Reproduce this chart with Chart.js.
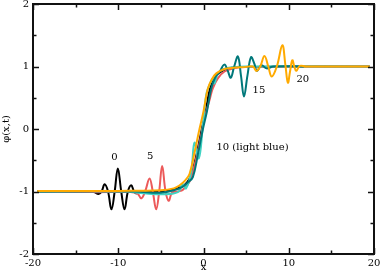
<!DOCTYPE html>
<html>
<head>
<meta charset="utf-8">
<script src="https://cdn.jsdelivr.net/npm/chart.js@4/dist/chart.umd.min.js"></script>
<style>
html,body{margin:0;padding:0;background:#fff;}
#wrap{width:382px;height:273px;position:relative;}
</style>
</head>
<body>
<div id="wrap"><canvas id="c" width="382" height="273"></canvas></div>
<script>
// ---- data ----
const seriesNames = ["0", "5", "10", "15", "20"];

const t0X = [-19.5, -13, -12.3, -11.95, -11.6, -11.2, -10.8, -10.42, -10.05, -9.65, -9.26, -8.87, -8.48, -8.15, -7.9, -7.5, -5, -3.5, -2.5, -1.9, -1.4, -0.8, -0.2, 0.25, 0.75, 1.25, 1.75, 2.7, 4, 19.5];
const t0Y = [-1, -1, -1.04, -1.0, -0.885, -1.0, -1.285, -1.0, -0.63, -1.0, -1.285, -1.0, -0.9, -1.0, -1.03, -1.0, -1.0, -0.97, -0.92, -0.85, -0.72, -0.40, 0.0, 0.28, 0.64, 0.80, 0.89, 0.96, 0.99, 1.0];

const t5X = [-19.5, -13, -8.5, -7.75, -7.3, -6.85, -6.33, -5.95, -5.55, -5.2, -4.85, -4.45, -4.07, -3.7, -3.0, -2.4, -1.64, -1.06, -0.67, -0.27, 0.12, 0.7, 1.09, 1.68, 2.46, 3.5, 5, 19.5];
const t5Y = [-1.0, -1.01, -1.01, -1.03, -1.11, -1.0, -0.79, -1.0, -1.285, -1.0, -0.59, -1.0, -1.15, -1.02, -1.0, -0.97, -0.84, -0.58, -0.36, -0.10, 0.17, 0.46, 0.65, 0.81, 0.92, 0.97, 0.99, 1.0];

const t10X = [-19.5, -9, -7, -4, -2.9, -2.45, -2.05, -1.44, -1.06, -0.55, -0.08, 0.32, 0.75, 1.09, 1.29, 1.68, 2.4, 3.5, 5, 19.5];
const t10Y = [-1.0, -1.0, -1.03, -1.04, -1.0, -0.88, -0.95, -0.68, -0.22, -0.47, 0.04, 0.55, 0.72, 0.81, 0.73, 0.89, 0.96, 0.99, 1.0, 1.0];

const t15X = [-19.5, -8, -5, -3.2, -2.4, -1.8, -1.25, -0.65, -0.07, 0.4, 0.9, 1.35, 1.9, 2.45, 2.85, 3.2, 3.6, 4.04, 4.4, 4.75, 5.15, 5.57, 5.95, 6.27, 6.8, 7.4, 8.2, 11.8];
const t15Y = [-1.0, -1.0, -1.02, -0.97, -0.92, -0.85, -0.77, -0.40, 0.0, 0.28, 0.64, 0.82, 0.92, 1.03, 0.93, 0.82, 1.0, 1.16, 0.85, 0.52, 0.85, 1.15, 1.05, 0.93, 1.02, 0.97, 1.0, 1.0];

const t20X = [-19.5, -10, -5, -3.5, -2.8, -2.2, -1.64, -1.06, -0.47, 0.0, 0.5, 1.0, 1.5, 2.46, 3.5, 4.8, 5.8, 6.2, 6.65, 7.15, 7.6, 8.0, 8.6, 9.25, 9.6, 9.9, 10.15, 10.42, 10.65, 10.88, 11.3, 12, 19.5];
const t20Y = [-0.99, -0.99, -0.98, -0.95, -0.90, -0.83, -0.72, -0.38, 0.0, 0.28, 0.64, 0.80, 0.89, 0.96, 0.98, 0.99, 1.0, 0.93, 1.0, 1.17, 1.0, 0.84, 1.0, 1.34, 1.03, 0.74, 0.92, 1.1, 1.0, 0.93, 1.01, 1.0, 1.0];

const xTickValues = [-20, -10, 0, 10, 20];
const yTickValues = [-2, -1, 0, 1, 2];

const labelTexts = ["0", "5", "10 (light blue)", "15", "20"];
const labelX = [-10.44, -6.26, 1.52, 5.75, 10.9];
const labelY = [-0.45, -0.44, -0.29, 0.61, 0.80];
const labelAlign = ["center", "center", "left", "left", "left"];

// ---- chart ----
const colors = {"0":"#000000","5":"#ec5a5a","10":"#3fd3c3","15":"#00787a","20":"#ffaa00"};
function pts(xs, ys){ return xs.map((x,i)=>({x:x, y:ys[i]})); }
const FONT = "'DejaVu Serif', 'Liberation Serif', serif";

function ds(name, xs, ys){
  return {label:name, data:pts(xs,ys), borderColor:colors[name], borderWidth:2,
          pointRadius:0, tension:0.4, fill:false};
}
// dataset 0 is drawn on top
const datasets = [
  ds("20", t20X, t20Y),
  ds("15", t15X, t15Y),
  ds("10", t10X, t10Y),
  ds("5", t5X, t5Y),
  ds("0", t0X, t0Y)
];

const framePlugin = {
  id:'frame',
  afterDatasetsDraw(chart){
    const ctx = chart.ctx, a = chart.chartArea;
    const sx = chart.scales.x, sy = chart.scales.y;
    ctx.save();
    ctx.strokeStyle = '#111';
    ctx.lineWidth = 1.5;
    const major = 6, minor = 3.5;
    for (let i=0;i<xTickValues.length;i++){
      const v = xTickValues[i];
      const p = Math.round(sx.getPixelForValue(v))+0.5;
      ctx.beginPath();
      ctx.moveTo(p,a.bottom); ctx.lineTo(p,a.bottom-major);
      ctx.moveTo(p,a.top); ctx.lineTo(p,a.top+major);
      ctx.stroke();
      if (i<xTickValues.length-1){
        const m = Math.round(sx.getPixelForValue((v+xTickValues[i+1])/2))+0.5;
        ctx.beginPath();
        ctx.moveTo(m,a.bottom); ctx.lineTo(m,a.bottom-minor);
        ctx.moveTo(m,a.top); ctx.lineTo(m,a.top+minor);
        ctx.stroke();
      }
    }
    for (let i=0;i<yTickValues.length;i++){
      const v = yTickValues[i];
      const p = Math.round(sy.getPixelForValue(v))+0.5;
      ctx.beginPath();
      ctx.moveTo(a.left,p); ctx.lineTo(a.left+major,p);
      ctx.moveTo(a.right,p); ctx.lineTo(a.right-major,p);
      ctx.stroke();
      if (i<yTickValues.length-1){
        const m = Math.round(sy.getPixelForValue((v+yTickValues[i+1])/2))+0.5;
        ctx.beginPath();
        ctx.moveTo(a.left,m); ctx.lineTo(a.left+minor,m);
        ctx.moveTo(a.right,m); ctx.lineTo(a.right-minor,m);
        ctx.stroke();
      }
    }
    ctx.lineWidth = 2;
    ctx.strokeStyle = '#111';
    ctx.strokeRect(a.left, a.top, a.right-a.left, a.bottom-a.top);
    ctx.fillStyle = '#000';
    ctx.font = "10px " + FONT;
    ctx.textBaseline = 'middle';
    for (let i=0;i<labelTexts.length;i++){
      ctx.textAlign = labelAlign[i];
      ctx.fillText(labelTexts[i], sx.getPixelForValue(labelX[i]), sy.getPixelForValue(labelY[i]));
    }
    ctx.restore();
  }
};

new Chart(document.getElementById('c'), {
  type:'line',
  data:{datasets:datasets},
  options:{
    responsive:false,
    animation:false,
    devicePixelRatio:1,
    layout:{padding:{top:4,right:8,left:0,bottom:0}},
    plugins:{legend:{display:false}, tooltip:{enabled:false}},
    scales:{
      x:{
        type:'linear', min:-20, max:20,
        afterBuildTicks(s){ s.ticks = xTickValues.map(v=>({value:v})); },
        afterFit(s){ s.height = 19; s.paddingLeft = 0; s.paddingRight = 0; },
        grid:{display:false, drawTicks:false},
        border:{display:false},
        ticks:{color:'#000', font:{family:FONT, size:10}, padding:3, maxRotation:0, autoSkip:false},
        title:{display:true, text:'x', color:'#000', font:{family:FONT, size:10}, padding:{top:0,bottom:0}}
      },
      y:{
        type:'linear', min:-2, max:2,
        afterBuildTicks(s){ s.ticks = yTickValues.map(v=>({value:v})); },
        afterFit(s){ s.width = 33; s.paddingTop = 0; s.paddingBottom = 0; },
        grid:{display:false, drawTicks:false},
        border:{display:false},
        ticks:{color:'#000', font:{family:FONT, size:10}, padding:4, autoSkip:false},
        title:{display:true, text:'φ(x,t)', color:'#000', font:{family:FONT, size:10}, padding:{top:0,bottom:0}}
      }
    }
  },
  plugins:[framePlugin]
});
</script>
</body>
</html>
